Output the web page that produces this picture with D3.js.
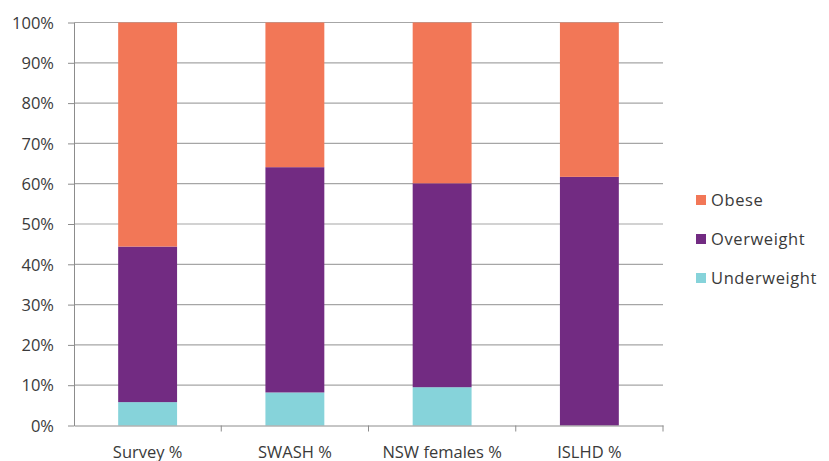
<!DOCTYPE html>
<html><head><meta charset="utf-8">
<script src="https://cdn.jsdelivr.net/npm/d3@7"></script>
<style>body{margin:0;background:#fff;} svg text{font-family:"Open Sans","Liberation Sans",sans-serif;fill:#3a3a3a;}</style>
</head><body>
<svg id="c" width="829" height="461"></svg>
<script>
const categories = ["Survey %", "SWASH %", "NSW females %", "ISLHD %"];
const seriesNames = ["Underweight", "Overweight", "Obese"];
const underweight = [5.8, 8.2, 9.5, 0];
const overweight = [38.6, 55.9, 50.6, 61.7];
const obese = [55.6, 35.9, 39.9, 38.3];
const colors = ["#86D3DA", "#722B82", "#F27757"];
const yTicks = [0,10,20,30,40,50,60,70,80,90,100];

(function(){
const svg = d3.select("#c");
const mLeft = 74, mRight = 663, mTop = 22.5, mBottom = 425.5;
const x = d3.scaleBand().domain(categories).range([mLeft, mRight]).paddingInner(0.6).paddingOuter(0.3);
const xb = d3.scaleBand().domain(categories).range([mLeft, mRight]);
const y = d3.scaleLinear().domain([0, 100]).range([mBottom, mTop]);

svg.append("g").selectAll("line").data(yTicks.filter(d=>d>0)).join("line")
  .attr("x1", mLeft).attr("x2", mRight)
  .attr("y1", d=>y(d)).attr("y2", d=>y(d))
  .attr("stroke", "#a6a6a6").attr("stroke-width", 1.2);

const table = categories.map((c,i)=>({cat:c, Underweight:underweight[i], Overweight:overweight[i], Obese:obese[i]}));
const stack = d3.stack().keys(seriesNames)(table);
svg.append("g").selectAll("g").data(stack).join("g")
  .attr("fill", (d,i)=>colors[i])
  .selectAll("rect").data(d=>d).join("rect")
  .attr("x", d=>x(d.data.cat)).attr("width", x.bandwidth())
  .attr("y", d=>y(d[1])).attr("height", d=>y(d[0])-y(d[1]));

const ya = svg.append("g").attr("transform", `translate(${mLeft},0)`)
  .call(d3.axisLeft(y).tickValues(yTicks).tickFormat(d=>d+"%").tickSize(6).tickSizeOuter(0));
ya.select(".domain").attr("stroke", "#8c8c8c");
ya.selectAll(".tick line").attr("stroke", "#8c8c8c");
ya.selectAll("text").attr("font-size", 16.5).attr("x", -20).attr("dy", "0.35em");

const xa = svg.append("g").attr("transform", `translate(0,${mBottom})`)
  .call(d3.axisBottom(xb).tickSize(0).tickSizeOuter(0));
xa.select(".domain").attr("stroke", "#8c8c8c");
xa.selectAll("text").attr("font-size", 16.5).attr("dy", 0).attr("y", 32);
svg.append("g").selectAll("line").data(categories).join("line")
  .attr("x1", d=>xb(d)+xb.bandwidth()).attr("x2", d=>xb(d)+xb.bandwidth())
  .attr("y1", mBottom).attr("y2", mBottom+6).attr("stroke", "#8c8c8c");

const legendOrder = [2,1,0];
const lg = svg.append("g").selectAll("g").data(legendOrder).join("g")
  .attr("transform", (d,i)=>`translate(696,${200 + i*39})`);
lg.append("rect").attr("x",0).attr("y",-5).attr("width",10).attr("height",10).attr("fill", d=>colors[d]);
lg.append("text").attr("x",15).attr("dy","0.35em").attr("font-size",16.5).attr("letter-spacing",0.6).text(d=>seriesNames[d]);
})();
</script>
</body></html>
